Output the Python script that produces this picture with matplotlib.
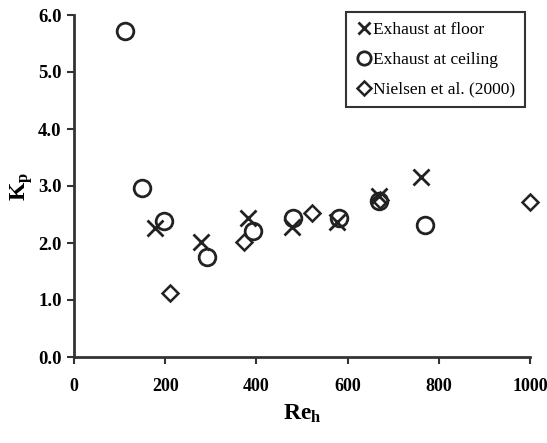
import matplotlib
matplotlib.use('Agg')
import matplotlib.pyplot as plt

# Exhaust at floor
floor_re = [178, 278, 381, 478, 577, 669, 761]
floor_kp = [2.26, 2.02, 2.44, 2.28, 2.37, 2.82, 3.16]

# Exhaust at ceiling
ceil_re = [112, 149, 197, 292, 393, 480, 582, 668, 770]
ceil_kp = [5.72, 2.96, 2.38, 1.75, 2.21, 2.43, 2.43, 2.73, 2.31]

# Nielsen et al. (2000)
niel_re = [210, 373, 522, 670, 1000]
niel_kp = [1.12, 2.02, 2.53, 2.76, 2.72]

x_ticks = [0, 200, 400, 600, 800, 1000]
y_ticks = [0.0, 1.0, 2.0, 3.0, 4.0, 5.0, 6.0]

plt.rcParams['font.family'] = ['Liberation Serif', 'DejaVu Serif']
plt.rcParams['mathtext.fontset'] = 'custom'
plt.rcParams['mathtext.rm'] = 'Liberation Serif'
plt.rcParams['mathtext.bf'] = 'Liberation Serif:bold'
plt.rcParams['mathtext.it'] = 'Liberation Serif:italic'

fig = plt.figure(figsize=(5.47, 4.43), dpi=100)
ax = fig.add_axes([74 / 547, 1 - 357 / 443, 456 / 547, 342 / 443])

ax.plot(floor_re, floor_kp, linestyle='none', marker='x', markersize=11,
        markeredgewidth=2.0, color='#222222', label='Exhaust at floor',
        clip_on=False)
ax.plot(ceil_re, ceil_kp, linestyle='none', marker='o', markersize=12,
        markerfacecolor='none', markeredgewidth=2.0, color='#222222',
        label='Exhaust at ceiling', clip_on=False)
ax.plot(niel_re, niel_kp, linestyle='none', marker='D', markersize=8.5,
        markerfacecolor='none', markeredgewidth=1.8, color='#222222',
        label='Nielsen et al. (2000)', clip_on=False)

ax.set_xlim(0, 1000)
ax.set_ylim(0, 6)
ax.set_xticks(x_ticks)
ax.set_yticks(y_ticks)
ax.set_xticklabels([str(t) for t in x_ticks], fontweight='bold', fontsize=13)
ax.set_yticklabels([f'{t:.1f}' for t in y_ticks], fontweight='bold', fontsize=13.5)
ax.tick_params(direction='out', length=5, width=1.5, color='#333333')
ax.tick_params(axis='x', pad=10)
ax.tick_params(axis='y', pad=4)

for side in ['top', 'right']:
    ax.spines[side].set_visible(False)
for side in ['left', 'bottom']:
    ax.spines[side].set_linewidth(2)
    ax.spines[side].set_color('#333333')

ax.set_xlabel(r'$\mathbf{Re}_\mathbf{h}$', fontsize=17, labelpad=6)
ax.set_ylabel(r'$\mathbf{K}_\mathbf{p}$', fontsize=17, labelpad=2)

leg = ax.legend(loc='upper right', bbox_to_anchor=(0.989, 1.009), borderaxespad=0,
                fontsize=12.5, handletextpad=0.05, handlelength=1.0,
                borderpad=0.55, labelspacing=0.8, fancybox=False, framealpha=1,
                edgecolor='#333333', markerscale=0.8)
leg.get_frame().set_linewidth(1.5)

plt.savefig('out.png', dpi=100)
